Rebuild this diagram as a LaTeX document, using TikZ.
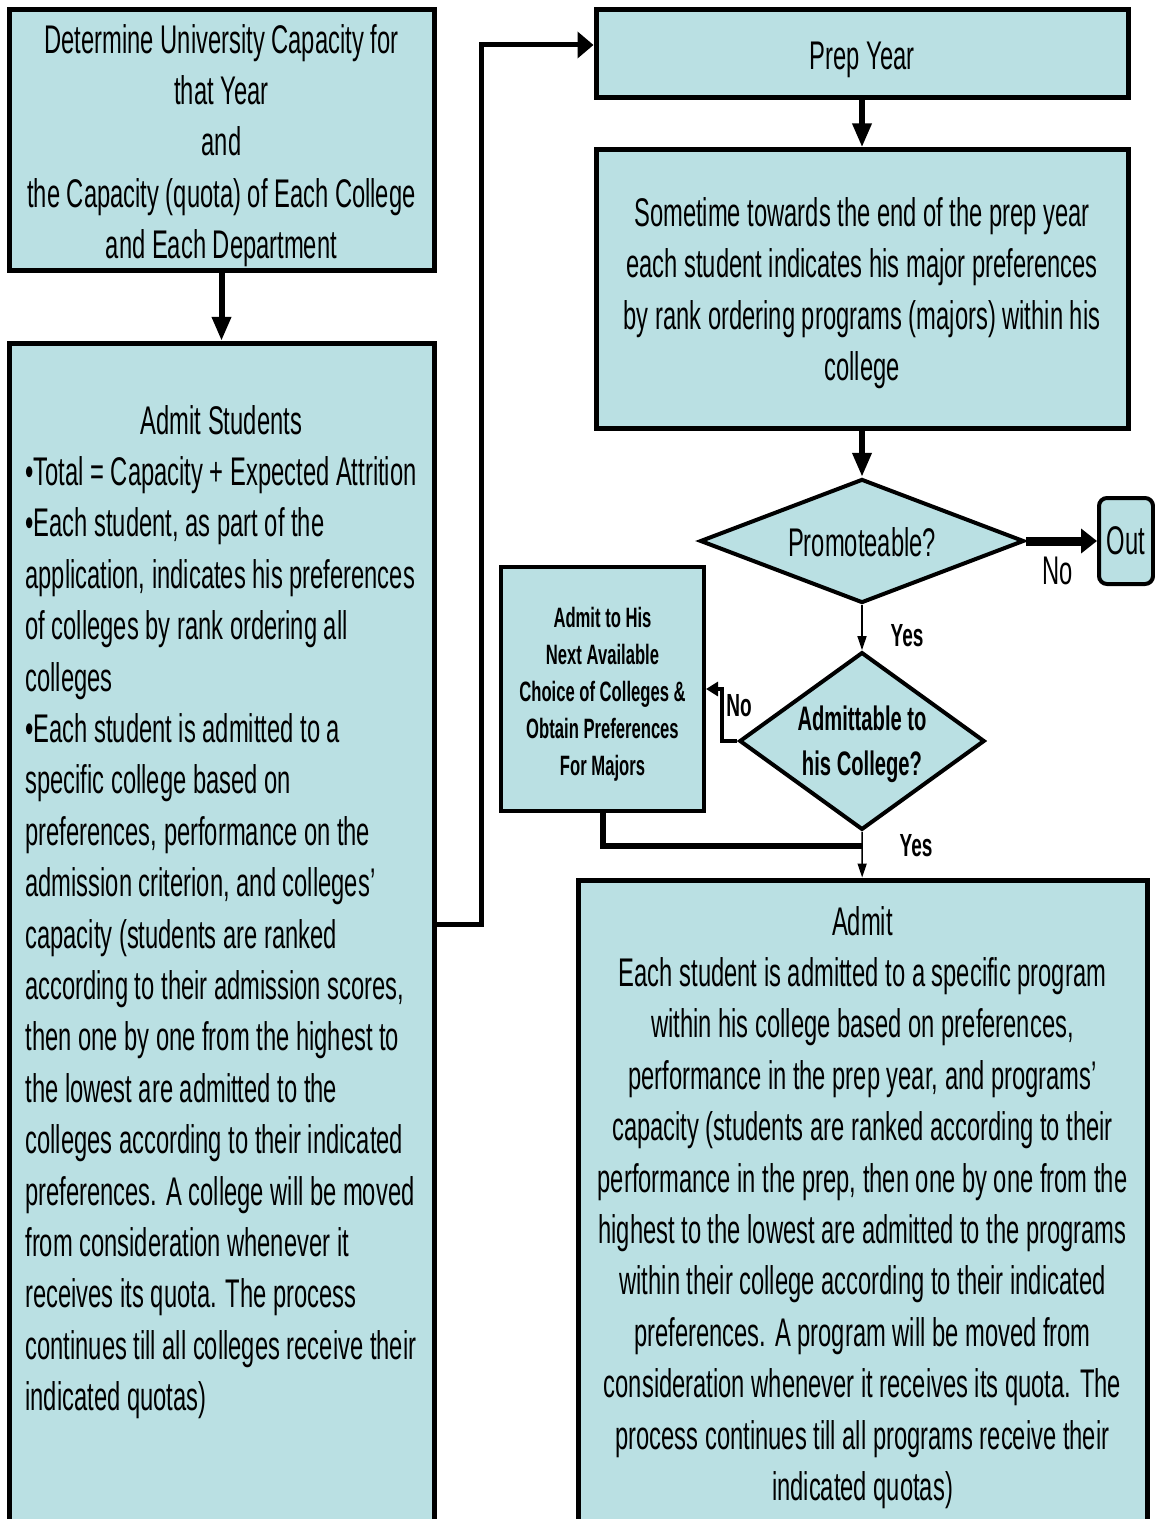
\documentclass[tikz,border=0pt]{standalone}
\usepackage{fontspec}
\setmainfont[FakeStretch=0.594]{Liberation Sans}
\usepackage{xcolor}
\definecolor{fc-cyan}{RGB}{186,224,227}
\usepackage{tikz}
\usetikzlibrary{shapes,arrows.meta,positioning}
\newcommand{\bigtxt}{\fontsize{20}{25.7}\selectfont}
\newcommand{\smalltxt}{\fontsize{14}{18.5}\selectfont\bfseries}
\newcommand{\dectxt}{\fontsize{17}{22.5}\selectfont\bfseries}
\newcommand{\lbltxt}{\fontsize{16}{18}\selectfont\bfseries}
\newcommand{\lift}[1]{\rule{0pt}{#1}}

\begin{document}
\begin{tikzpicture}[x=0.5pt,y=-0.5pt,
    box/.style={draw,line width=2.5pt,fill=fc-cyan,inner sep=0pt,font=\bigtxt,align=center},
    decision/.style={diamond,draw,line width=2pt,fill=fc-cyan,inner sep=0pt,align=center},
    bigarr/.style={line width=3pt,-{Triangle[width=9pt,length=12pt]}},
    thinarr/.style={line width=0.8pt,-{Triangle[width=4.5pt,length=7pt]}}]
    \useasboundingbox (0,0) rectangle (1155,1519);

    % left column
    \node[box,minimum width=212.5pt,minimum height=130.5pt] (univCap) at (221.5,140.5) {\lift{19.5pt}Determine University Capacity for\\that Year\\and\\the Capacity (quota) of Each College\\and Each Department};
    \node[box,minimum width=212.5pt,minimum height=600pt,anchor=north] (admitBox) at (221.5,341) {};
    \node[anchor=west,align=left,font=\bigtxt,inner sep=0pt] (admitTxt) at (25,912) {\makebox[196pt]{Admit Students}\\
        •Total = Capacity + Expected Attrition\\
        •Each student, as part of the\\
        application, indicates his preferences\\
        of colleges by rank ordering all\\
        colleges\\
        •Each student is admitted to a\\
        specific college based on\\
        preferences, performance on the\\
        admission criterion, and colleges’\\
        capacity (students are ranked\\
        according to their admission scores,\\
        then one by one from the highest to\\
        the lowest are admitted to the\\
        colleges according to their indicated\\
        preferences. A college will be moved\\
        from consideration whenever it\\
        receives its quota. The process\\
        continues till all colleges receive their\\
        indicated quotas)};

    % right column
    \node[box,minimum width=266pt,minimum height=44pt] (prepYear) at (862,54) {\lift{20pt}Prep Year};
    \node[box,minimum width=266pt,minimum height=139pt] (prefBox) at (862,289) {\lift{18.5pt}Sometime towards the end of the prep year\\each student indicates his major preferences\\by rank ordering programs (majors) within his\\college};
    \node[decision,minimum width=162pt,minimum height=62pt,aspect=2.6,font=\bigtxt] (promo) at (862,541) {\lift{16pt}Promoteable?};
    \node[draw,line width=2pt,fill=fc-cyan,rounded corners=4pt,minimum width=27pt,minimum height=43pt,inner sep=0pt,font=\bigtxt] (out) at (1126,541) {Out};
    \node[decision,minimum width=121.5pt,minimum height=88pt,aspect=1.38,font=\dectxt] (admittable) at (862,741) {\lift{16pt}Admittable to\\his College?};
    \node[box,line width=2pt,minimum width=101.5pt,minimum height=122pt,font=\smalltxt] (nextChoice) at (602.5,689) {\lift{15pt}Admit to His\\Next Available\\Choice of Colleges \&\\Obtain Preferences\\For Majors};
    \node[box,minimum width=284.5pt,minimum height=324pt] (progAdmit) at (862.5,1204) {\lift{18pt}Admit\\
        Each student is admitted to a specific program\\
        within his college based on preferences,\\
        performance in the prep year, and programs’\\
        capacity (students are ranked according to their\\
        performance in the prep, then one by one from the\\
        highest to the lowest are admitted to the programs\\
        within their college according to their indicated\\
        preferences. A program will be moved from\\
        consideration whenever it receives its quota. The\\
        process continues till all programs receive their\\
        indicated quotas)};

    % connectors
    \coordinate (jogLow) at (481,924);
    \coordinate (jogTop) at (481,45);
    \coordinate (noBend) at (722,689);
    \coordinate (merge) at (862,846);
    \draw[bigarr] (univCap) -- (admitBox);
    \draw[line width=2.5pt,-{Triangle[width=13pt,length=8pt]}] (admitBox.east |- jogLow) -- (jogLow) -- (jogTop) -- (prepYear.west |- jogTop);
    \draw[bigarr] (prepYear) -- (prefBox);
    \draw[bigarr] (prefBox) -- (promo);
    \draw[line width=4.5pt,-{Triangle[width=12pt,length=8pt]}] (promo) -- (out);
    \draw[thinarr] (promo) -- (admittable);
    \draw[line width=2pt,-{Triangle[width=7pt,length=6pt]}] (admittable.west) -| (noBend) -- (nextChoice.east);
    \draw[line width=3pt] (nextChoice.south) |- (merge);
    \draw[thinarr] (admittable) -- (progAdmit);

    % labels
    \node[font=\bigtxt] (noOut) at (1058,571) {No};
    \node[font=\lbltxt] (yesPromo) at (907,636) {Yes};
    \node[font=\lbltxt] (noAdmit) at (739,706) {No};
    \node[font=\lbltxt] (yesAdmit) at (916,846) {Yes};
\end{tikzpicture}
\end{document}
